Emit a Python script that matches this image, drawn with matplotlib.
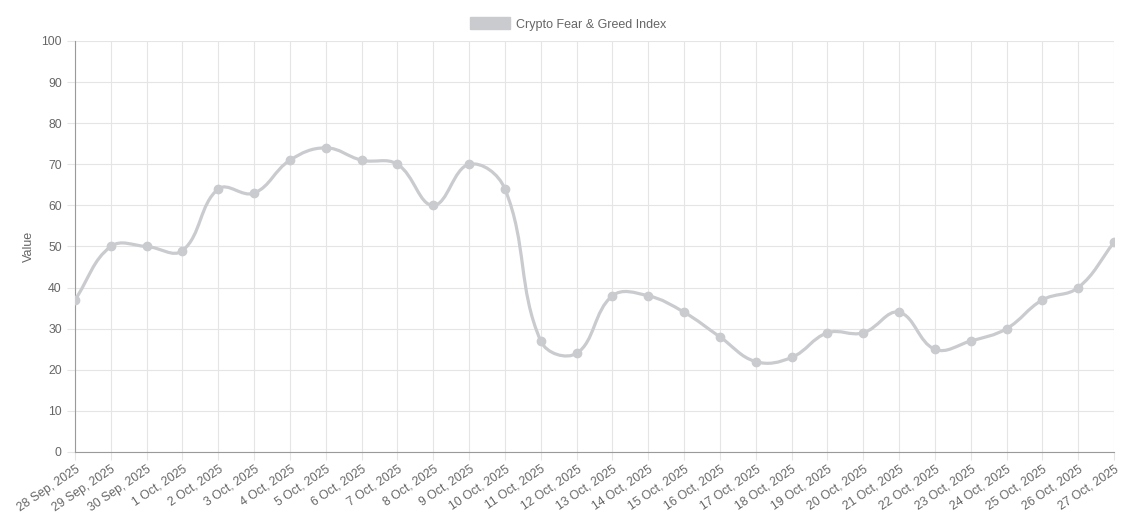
import matplotlib
matplotlib.use('Agg')
import matplotlib.pyplot as plt
import numpy as np
from matplotlib.path import Path
from matplotlib.patches import PathPatch, Patch

plt.rcParams['font.family'] = ['Liberation Sans', 'DejaVu Sans']

# data
dates = ['28 Sep, 2025', '29 Sep, 2025', '30 Sep, 2025', '1 Oct, 2025', '2 Oct, 2025',
         '3 Oct, 2025', '4 Oct, 2025', '5 Oct, 2025', '6 Oct, 2025', '7 Oct, 2025',
         '8 Oct, 2025', '9 Oct, 2025', '10 Oct, 2025', '11 Oct, 2025', '12 Oct, 2025',
         '13 Oct, 2025', '14 Oct, 2025', '15 Oct, 2025', '16 Oct, 2025', '17 Oct, 2025',
         '18 Oct, 2025', '19 Oct, 2025', '20 Oct, 2025', '21 Oct, 2025', '22 Oct, 2025',
         '23 Oct, 2025', '24 Oct, 2025', '25 Oct, 2025', '26 Oct, 2025', '27 Oct, 2025']
values = [37, 50, 50, 49, 64, 63, 71, 74, 71, 70, 60, 70, 64, 27, 24,
          38, 38, 34, 28, 22, 23, 29, 29, 34, 25, 27, 30, 37, 40, 51]

line_col = '#c9cbcf'
grid_col = '#e5e5e5'
text_col = '#666666'

fig = plt.figure(figsize=(11.37, 5.17), dpi=100)
ax = fig.add_axes([75 / 1137, 1 - 452 / 517, (1114 - 75) / 1137, (452 - 41) / 517])

x = np.arange(len(values))
ax.set_xlim(0, len(values) - 1)
ax.set_ylim(0, 100)

# chart.js style spline (tension 0.4) worked out in pixel space
fig.canvas.draw()
pts = ax.transData.transform(np.column_stack([x, values]))
t = 0.4
n = len(pts)
cp_prev = np.zeros_like(pts)
cp_next = np.zeros_like(pts)
for i in range(n):
    p0 = pts[max(i - 1, 0)]
    p1 = pts[i]
    p2 = pts[min(i + 1, n - 1)]
    d01 = np.hypot(*(p1 - p0))
    d12 = np.hypot(*(p2 - p1))
    s = d01 + d12
    fa = t * d01 / s if s else 0
    fb = t * d12 / s if s else 0
    cp_prev[i] = p1 - fa * (p2 - p0)
    cp_next[i] = p1 + fb * (p2 - p0)

verts = [pts[0]]
codes = [Path.MOVETO]
for i in range(n - 1):
    verts += [cp_next[i], cp_prev[i + 1], pts[i + 1]]
    codes += [Path.CURVE4] * 3
verts = ax.transData.inverted().transform(np.array(verts))
ax.add_patch(PathPatch(Path(verts, codes), facecolor='none', edgecolor=line_col,
                       lw=2.3, capstyle='round', joinstyle='round', zorder=3))
ax.plot(x, values, 'o', color=line_col, markersize=6, zorder=4)

ax.set_yticks(np.arange(0, 101, 10))
ax.set_xticks(x)
ax.set_xticklabels(dates, rotation=34, ha='right', rotation_mode='anchor')
ax.grid(True, color=grid_col, lw=0.8)
ax.set_axisbelow(True)
ax.tick_params(colors=grid_col, labelcolor=text_col, labelsize=8.8, length=6, width=0.8)
ax.tick_params(axis='x', pad=2)
for side in ['top', 'right']:
    ax.spines[side].set_visible(False)
for side in ['left', 'bottom']:
    ax.spines[side].set_color('#9a9a9a')
    ax.spines[side].set_linewidth(0.8)

ax.set_ylabel('Value', color=text_col, fontsize=9)
ax.yaxis.set_label_coords(-40 / 1039, 0.5)

fig.legend(handles=[Patch(facecolor=line_col, edgecolor=line_col)],
           labels=['Crypto Fear & Greed Index'], loc='center', bbox_to_anchor=(0.5, 1 - 24 / 517),
           frameon=False, fontsize=9, labelcolor=text_col, handlelength=3.2, handleheight=1.1,
           handletextpad=0.5)

fig.savefig('out.png', dpi=100)
